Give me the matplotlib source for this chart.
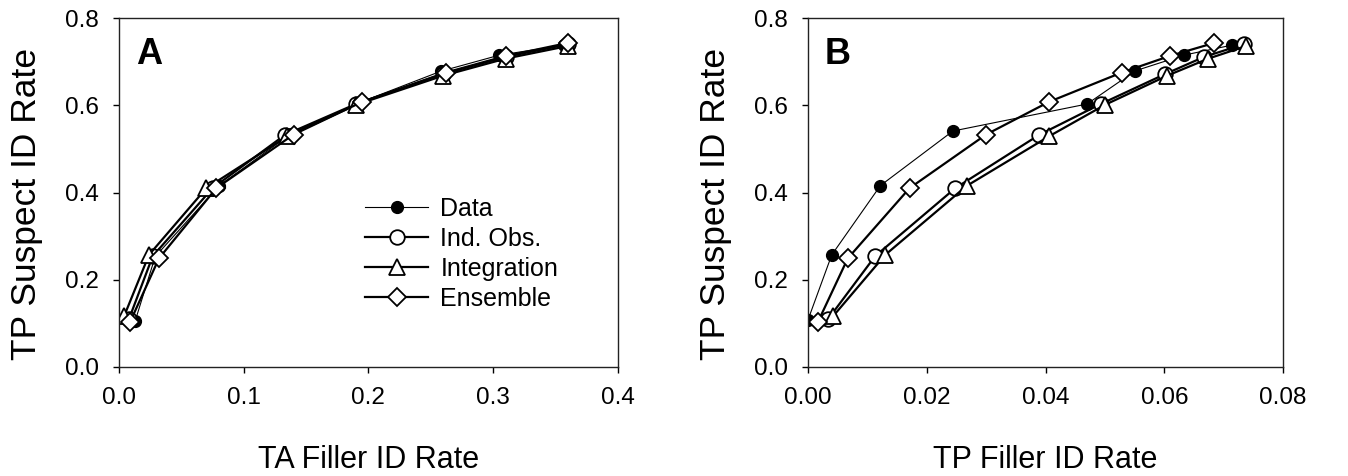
import matplotlib
matplotlib.use("Agg")
import matplotlib.pyplot as plt

plt.rcParams['font.family'] = ['Liberation Sans', 'DejaVu Sans']

series_names = ["Data", "Ind. Obs.", "Integration", "Ensemble"]

# Panel A: TA filler ID rate vs TP suspect ID rate
a_data_x = [0.013, 0.029, 0.080, 0.138, 0.190, 0.258, 0.305, 0.357]
a_data_y = [0.106, 0.253, 0.415, 0.535, 0.603, 0.678, 0.715, 0.738]
a_ind_x = [0.008, 0.027, 0.075, 0.133, 0.190, 0.260, 0.310, 0.360]
a_ind_y = [0.110, 0.254, 0.410, 0.532, 0.603, 0.672, 0.711, 0.740]
a_int_x = [0.004, 0.024, 0.070, 0.135, 0.190, 0.260, 0.310, 0.360]
a_int_y = [0.116, 0.257, 0.410, 0.529, 0.601, 0.668, 0.707, 0.736]
a_ens_x = [0.009, 0.032, 0.078, 0.140, 0.195, 0.262, 0.310, 0.360]
a_ens_y = [0.104, 0.249, 0.410, 0.533, 0.608, 0.675, 0.713, 0.743]

# Panel B: TP filler ID rate vs TP suspect ID rate
b_data_x = [0.0000, 0.0040, 0.0122, 0.0244, 0.0470, 0.0551, 0.0633, 0.0714]
b_data_y = [0.108, 0.257, 0.416, 0.541, 0.603, 0.679, 0.715, 0.738]
b_ind_x = [0.0034, 0.0113, 0.0248, 0.0389, 0.0493, 0.0602, 0.0667, 0.0734]
b_ind_y = [0.110, 0.254, 0.410, 0.532, 0.603, 0.672, 0.711, 0.740]
b_int_x = [0.0042, 0.0130, 0.0267, 0.0406, 0.0500, 0.0605, 0.0674, 0.0738]
b_int_y = [0.116, 0.257, 0.415, 0.529, 0.601, 0.668, 0.707, 0.736]
b_ens_x = [0.0017, 0.0067, 0.0171, 0.0300, 0.0406, 0.0528, 0.0609, 0.0684]
b_ens_y = [0.104, 0.249, 0.410, 0.533, 0.608, 0.675, 0.713, 0.743]

styles = [
    dict(marker="o", ms=8.5, mfc="black", mec="black", lw=0.8),
    dict(marker="o", ms=10.5, mfc="white", mec="black", mew=1.3, lw=1.6),
    dict(marker="^", ms=11.5, mfc="white", mec="black", mew=1.3, lw=1.6),
    dict(marker="D", ms=9, mfc="white", mec="black", mew=1.3, lw=1.6),
]

fig = plt.figure(figsize=(13.48, 4.76), dpi=100)
ax_a = fig.add_axes([0.0883, 0.229, 0.370, 0.733])
ax_b = fig.add_axes([0.5994, 0.229, 0.3524, 0.733])


def draw_panel(ax, xs, ys, letter, xlim, xticks, xfmt, xlabel, ylab_x):
    for x, y, name, st in zip(xs, ys, series_names, styles):
        ax.plot(x, y, color="black", label=name, **st)
    ax.set_xlim(*xlim)
    ax.set_ylim(0, 0.8)
    ax.set_xticks(xticks)
    ax.set_xticklabels([xfmt.format(t) for t in xticks])
    ax.set_yticks([0.0, 0.2, 0.4, 0.6, 0.8])
    ax.set_yticklabels(["0.0", "0.2", "0.4", "0.6", "0.8"])
    ax.tick_params(direction="out", length=4.5, width=1, labelsize=17.5,
                   top=False, right=False)
    ax.tick_params(axis="x", pad=10)
    ax.tick_params(axis="y", pad=10)
    for sp in ax.spines.values():
        sp.set_linewidth(1)
        sp.set_color("#222222")
    ax.set_xlabel(xlabel, fontsize=22, labelpad=26)
    ax.set_ylabel("TP Suspect ID Rate", fontsize=25.5)
    ax.yaxis.set_label_coords(ylab_x, 0.466)
    ax.text(0.034, 0.945, letter, transform=ax.transAxes, fontsize=26,
            fontweight="bold", va="top", ha="left")


draw_panel(ax_a, [a_data_x, a_ind_x, a_int_x, a_ens_x],
           [a_data_y, a_ind_y, a_int_y, a_ens_y], "A",
           (0, 0.4), [0.0, 0.1, 0.2, 0.3, 0.4], "{:.1f}", "TA Filler ID Rate",
           -0.152)
draw_panel(ax_b, [b_data_x, b_ind_x, b_int_x, b_ens_x],
           [b_data_y, b_ind_y, b_int_y, b_ens_y], "B",
           (0, 0.08), [0.0, 0.02, 0.04, 0.06, 0.08], "{:.2f}", "TP Filler ID Rate",
           -0.16)

ax_a.legend(loc="center left", bbox_to_anchor=(0.469, 0.324), frameon=False,
            fontsize=18, handlelength=2.5, handletextpad=0.5,
            labelspacing=0.24, borderpad=0)

fig.savefig("out.png", dpi=100)
